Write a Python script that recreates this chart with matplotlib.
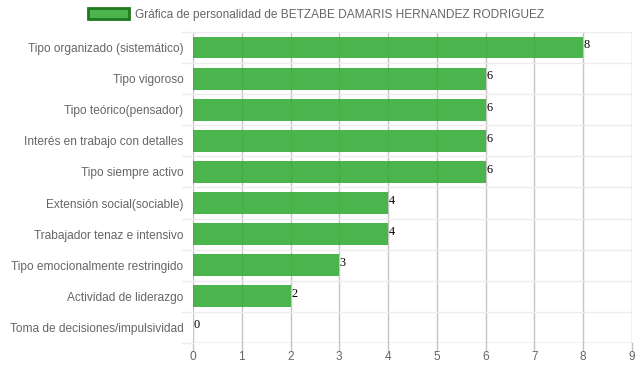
import matplotlib.pyplot as plt

categorias = [
    'Tipo organizado (sistemático)',
    'Tipo vigoroso',
    'Tipo teórico(pensador)',
    'Interés en trabajo con detalles',
    'Tipo siempre activo',
    'Extensión social(sociable)',
    'Trabajador tenaz e intensivo',
    'Tipo emocionalmente restringido',
    'Actividad de liderazgo',
    'Toma de decisiones/impulsividad',
]
valores = [8, 6, 6, 6, 6, 4, 4, 3, 2, 0]
x_ticks = list(range(0, 10))
titulo = 'Gráfica de personalidad de BETZABE DAMARIS HERNANDEZ RODRIGUEZ'

plt.rcParams['font.family'] = ['Liberation Sans', 'DejaVu Sans']

fig = plt.figure(figsize=(6.39, 3.72), dpi=100)
ax = fig.add_axes([0.302, 0.078, 0.687, 0.836])

n = len(categorias)
pos = list(range(n))
ax.barh(pos, valores, height=0.7, color='#33aa33', alpha=0.88, zorder=2,
        label=titulo, linewidth=0)

for p, v in zip(pos, valores):
    ax.text(v + 0.01, p - 0.07, str(v), fontsize=8.8, family='Liberation Serif',
            color='black', va='center', ha='left', zorder=3)

ax.set_xlim(0, 9)
ax.set_ylim(n - 0.5, -0.5)
ax.set_xticks(x_ticks)
ax.set_yticks(pos)
ax.set_yticklabels(categorias)
ax.tick_params(axis='both', labelsize=8.6, colors='#666666', length=0)
ax.tick_params(axis='x', pad=6)
ax.tick_params(axis='y', pad=7)

# grid lines
for xv in x_ticks:
    ax.axvline(xv, color='#c4c4c4', linewidth=1, zorder=1)
    ax.plot([xv, xv], [n - 0.5, n - 0.5 + 0.25], color='#c4c4c4', linewidth=1,
            clip_on=False, zorder=1)
for b in range(n + 1):
    ax.axhline(b - 0.5, color='#ececec', linewidth=1, zorder=1)
    ax.plot([-0.22, 0], [b - 0.5, b - 0.5], color='#ececec', linewidth=1,
            clip_on=False, zorder=1)
ax.axhline(n - 0.5, color='#c4c4c4', linewidth=1, zorder=1)

for s in ax.spines.values():
    s.set_visible(False)

leg = fig.legend(loc='upper center', bbox_to_anchor=(0.495, 1.0), ncol=1,
                 frameon=False, fontsize=8.6, handlelength=3.4, handleheight=1.0,
                 handletextpad=0.5, borderaxespad=0.3)
for t in leg.get_texts():
    t.set_color('#666666')
for h in leg.legend_handles:
    h.set_edgecolor('#1f7a1f')
    h.set_linewidth(2)
    h.set_alpha(1)
    h.set_facecolor('#4cb44c')

fig.savefig('out.png', dpi=100)
